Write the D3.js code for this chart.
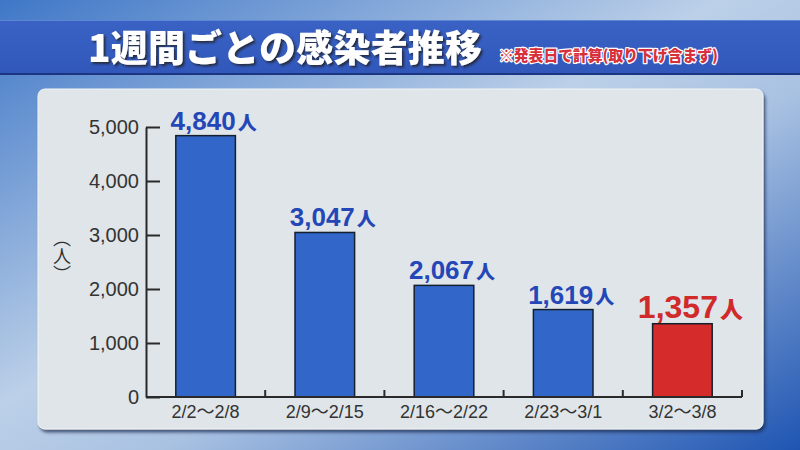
<!DOCTYPE html>
<html><head><meta charset="utf-8">
<script src="https://cdn.jsdelivr.net/npm/d3@7/dist/d3.min.js"></script>
<style>body{margin:0;overflow:hidden;background:#fff}svg{display:block}</style>
</head><body>
<script>
const categories = ["2/2～2/8","2/9～2/15","2/16～2/22","2/23～3/1","3/2～3/8"];
const values = [4840, 3047, 2067, 1619, 1357];
const highlight = [false,false,false,false,true];
const yTicks = [0,1000,2000,3000,4000,5000];
const title = "1週間ごとの感染者推移";
const note = "※発表日で計算(取り下げ含まず)";
const unit = "人";
const yLabel = "（人）";

const W=800,H=450;
const svg=d3.select("body").append("svg").attr("width",W).attr("height",H);
const defs=svg.append("defs");
const bg=defs.append("linearGradient").attr("id","bg").attr("x1","0").attr("y1","0").attr("x2","1").attr("y2","1");
bg.append("stop").attr("offset","0").attr("stop-color","#3f77c7");
bg.append("stop").attr("offset","0.45").attr("stop-color","#bcd0e8");
bg.append("stop").attr("offset","0.6").attr("stop-color","#a9c2e2");
bg.append("stop").attr("offset","1").attr("stop-color","#1f55b2");
const band=defs.append("linearGradient").attr("id","band").attr("x1","0").attr("y1","0").attr("x2","0").attr("y2","1");
band.append("stop").attr("offset","0").attr("stop-color","#3a62c4");
band.append("stop").attr("offset","1").attr("stop-color","#3157bb");
const sh=defs.append("filter").attr("id","tsh").attr("x","-10%").attr("y","-30%").attr("width","120%").attr("height","160%");
sh.append("feDropShadow").attr("dx",2).attr("dy",2).attr("stdDeviation",0.8).attr("flood-color","#222").attr("flood-opacity",0.8);
const psh=defs.append("filter").attr("id","psh").attr("x","-5%").attr("y","-5%").attr("width","110%").attr("height","110%");
psh.append("feDropShadow").attr("dx",2).attr("dy",3).attr("stdDeviation",1.5).attr("flood-color","#1a2a50").attr("flood-opacity",0.7);

svg.append("rect").attr("width",W).attr("height",H).attr("fill","url(#bg)");
// title band
svg.append("rect").attr("x",0).attr("y",20).attr("width",W).attr("height",54).attr("fill","url(#band)");
svg.append("line").attr("x1",0).attr("x2",W).attr("y1",20.5).attr("y2",20.5).attr("stroke","#5f86d4").attr("stroke-width",1);
svg.append("line").attr("x1",0).attr("x2",W).attr("y1",74).attr("y2",74).attr("stroke","#1c3580").attr("stroke-width",2);
svg.append("text").attr("x",88).attr("y",62).attr("font-family","'Noto Sans CJK JP'").attr("font-weight",900)
  .attr("font-size",37).attr("fill","#ffffff").attr("textLength",394).attr("lengthAdjust","spacing")
  .attr("filter","url(#tsh)").text(title);
svg.append("text").attr("x",499).attr("y",61).attr("font-family","'Noto Sans CJK JP'").attr("font-weight",900)
  .attr("font-size",15).attr("fill","#d8303a").attr("stroke","#ffffff").attr("stroke-width",2.5)
  .attr("paint-order","stroke").attr("stroke-linejoin","round").attr("textLength",219).attr("lengthAdjust","spacingAndGlyphs").text(note);

// panel
svg.append("rect").attr("x",38).attr("y",89).attr("width",725).attr("height",340).attr("rx",7)
  .attr("fill","#dfe5e8").attr("stroke","#f2f5f7").attr("stroke-width",1).attr("filter","url(#psh)");

const x=d3.scaleBand().domain(categories).range([146,742]).paddingInner(0.5).paddingOuter(0.25);
const y=d3.scaleLinear().domain([0,5000]).range([397,127]);

// y axis
const ya=svg.append("g").attr("transform","translate(146,0)")
  .call(d3.axisLeft(y).tickValues(yTicks).tickFormat(d3.format(",")).tickSizeInner(-14).tickSizeOuter(0).tickPadding(7));
ya.selectAll("path,line").attr("stroke","#2a2a2a").attr("stroke-width",2);
ya.selectAll("text").attr("font-family","'Liberation Sans',Arial,sans-serif").attr("font-size",20).attr("fill","#333");

// bars
svg.append("g").selectAll("rect").data(values).join("rect")
  .attr("x",(d,i)=>x(categories[i])).attr("width",x.bandwidth())
  .attr("y",d=>y(d)).attr("height",d=>y(0)-y(d))
  .attr("fill",(d,i)=>highlight[i]?"#d62b2b":"#3266c9").attr("stroke","#15202e").attr("stroke-width",1.5);

// x axis
const xa=svg.append("g").attr("transform","translate(0,397)");
xa.append("line").attr("x1",146).attr("x2",742).attr("y1",0).attr("y2",0).attr("stroke","#2a2a2a").attr("stroke-width",2);
xa.selectAll("line.t").data(categories).join("line").attr("class","t")
  .attr("x1",d=>x(d)+x.bandwidth()+x.step()*x.paddingInner()/2).attr("x2",d=>x(d)+x.bandwidth()+x.step()*x.paddingInner()/2)
  .attr("y1",0).attr("y2",-7).attr("stroke","#2a2a2a").attr("stroke-width",2);
const xl=svg.append("g").attr("transform","translate(0,397)")
  .call(d3.axisBottom(x).tickSize(0).tickPadding(8));
xl.select(".domain").remove();
xl.selectAll("text").attr("font-family","'Liberation Sans','Noto Sans CJK JP',sans-serif").attr("font-size",18).attr("fill","#333");

// value labels
const lab=svg.append("g").selectAll("text").data(values).join("text")
  .attr("x",(d,i)=>x(categories[i])+x.bandwidth()/2+8)
  .attr("y",d=>y(d)-6).attr("text-anchor","middle")
  .attr("fill",(d,i)=>highlight[i]?"#d02a2a":"#2447b8").attr("font-weight","bold");
lab.append("tspan").attr("font-family","'Liberation Sans',Arial,sans-serif")
  .attr("font-size",(d,i)=>highlight[i]?32:26).text(d=>d3.format(",")(d));
lab.append("tspan").attr("font-family","'Noto Sans CJK JP'").attr("font-weight",900)
  .attr("font-size",(d,i)=>highlight[i]?23:19).attr("dx",2).text(unit);

// y label
svg.append("text").attr("x",62).attr("y",256).attr("text-anchor","middle")
  .style("writing-mode","vertical-rl").attr("font-family","'Noto Sans CJK JP'").attr("font-size",18).attr("fill","#333").text(yLabel);
</script>
</body></html>
